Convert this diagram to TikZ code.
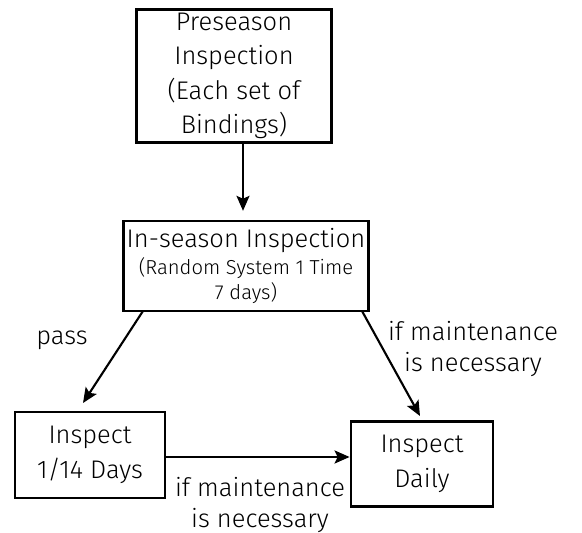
\documentclass[tikz,border=0pt]{standalone}
\usepackage{fontspec}
\setmainfont{Fira Sans}[UprightFont={* Light}]
\usepackage{tikz}
\usetikzlibrary{arrows.meta,positioning,calc}
\tikzset{
  stepbox/.style={draw=black,line width=1.6pt,align=center,inner sep=2pt,font=\fontsize{14.5}{19.5}\selectfont},
  arrow/.style={-{Stealth[length=3mm,width=2.6mm,inset=0.6mm]},line width=1.2pt,draw=black},
  lbl/.style={align=center,font=\fontsize{14.5}{18}\selectfont}
}
\begin{document}
\begin{tikzpicture}[x=0.02cm,y=-0.02cm]
  \useasboundingbox (0,0) rectangle (582,533);
  % boxes
  \node[stepbox,minimum width=195*0.02cm,minimum height=132*0.02cm] (pre) at (234,76) {Preseason\\Inspection\\(Each set of\\Bindings)};
  \node[stepbox,minimum width=242*0.02cm,minimum height=90*0.02cm] (ins) at (246,266) {In-season Inspection\\[-4pt]{\fontsize{11.5}{13}\selectfont (Random System 1 Time}\\[-5pt]{\fontsize{11.5}{13}\selectfont 7 days)}};
  \node[stepbox,minimum width=150*0.02cm,minimum height=86*0.02cm] (d14) at (90,455) {Inspect\\1/14 Days};
  \node[stepbox,minimum width=142*0.02cm,minimum height=85*0.02cm] (daily) at (422,464) {Inspect\\Daily};
  % arrow ends
  \coordinate (preS) at ($(pre.south)+(9,0)$);
  \coordinate (passS) at (143,311); \coordinate (passE) at (83,403);
  \coordinate (maintS) at (362,311); \coordinate (maintE) at (420,416);
  \coordinate (d14E) at ($(d14.east)+(0,2)$);
  % arrows
  \draw[arrow,shorten >=5pt] (preS) -- (preS |- ins.north);
  \draw[arrow] (passS) -- (passE);
  \draw[arrow] (maintS) -- (maintE);
  \draw[arrow] (d14E) -- (d14E -| daily.west);
  % labels
  \node[lbl] (passLbl) at (62,340) {pass};
  \node[lbl] (maintLbl) at (473,349) {if maintenance\\is necessary};
  \node[lbl] (dailyLbl) at (260,505) {if maintenance\\is necessary};
\end{tikzpicture}
\end{document}
